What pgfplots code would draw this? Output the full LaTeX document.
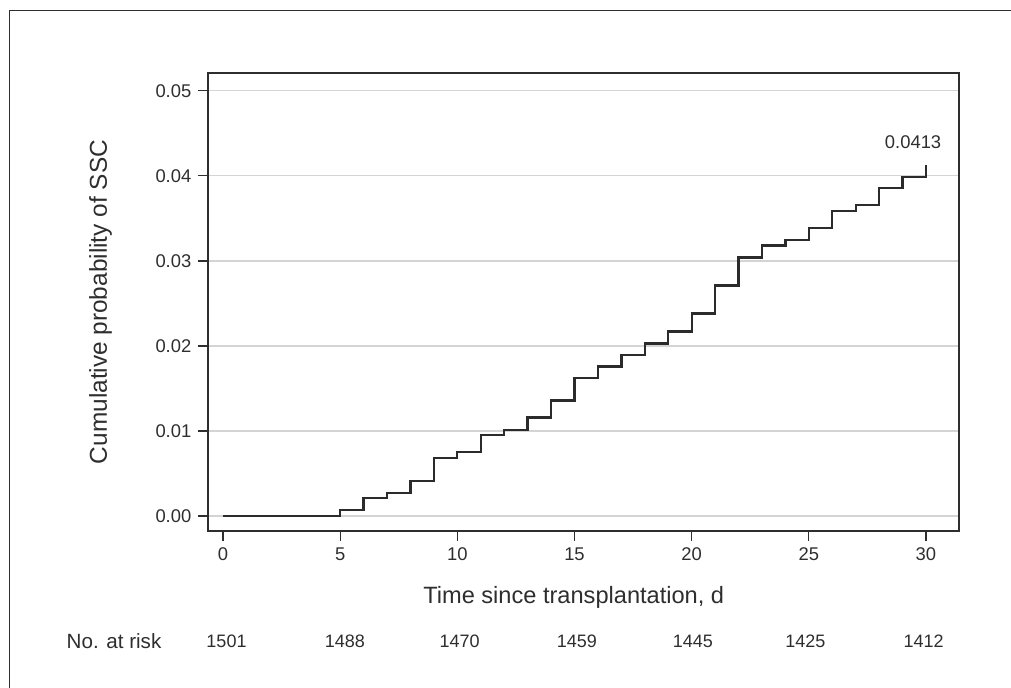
\documentclass[border=0pt]{standalone}
\usepackage{fontspec}
\setmainfont{Liberation Sans}
\usepackage{pgfplots}
\pgfplotsset{compat=1.18}
\definecolor{ink}{HTML}{2E2E2E}
\definecolor{curve}{HTML}{2B2B2B}
\definecolor{gridc}{HTML}{D4D4D4}
\begin{document}
\begin{tikzpicture}
\path[use as bounding box] (0,0) rectangle (505.5pt,344pt);
% frame of the figure panel (left and top edges only)
\draw[ink, line width=0.7pt] (4.75pt,0) -- (4.75pt,338.75pt) -- (505.5pt,338.75pt);
\begin{axis}[
    at={(104pt,78.5pt)}, anchor=south west,
    scale only axis, width=375.5pt, height=229pt,
    xmin=-0.64, xmax=31.41, ymin=-0.00176, ymax=0.0521,
    xtick={0,5,10,15,20,25,30},
    ytick={0,0.01,0.02,0.03,0.04,0.05},
    scaled y ticks=false,
    xtick pos=left, ytick pos=left,
    tick align=outside, major tick length=4.8pt,
    tick style={ink, line width=0.6pt},
    axis line style={ink, line width=0.65pt},
    ymajorgrids, grid style={gridc, line width=0.6pt},
    /pgf/number format/assume math mode=true,
    tick label style={font=\fontsize{9.2}{11}\selectfont, text=ink},
    yticklabel style={/pgf/number format/fixed, /pgf/number format/fixed zerofill,
      /pgf/number format/precision=2},
    xlabel={Time since transplantation, d},
    ylabel={Cumulative probability of SSC},
    every axis x label/.style={at={(axis description cs:0.487,-0.144)}, anchor=center,
      font=\fontsize{11.8}{14}\selectfont, text=ink},
    every axis y label/.style={at={(axis description cs:-0.143,0.50)}, rotate=90, anchor=center,
      font=\fontsize{12.2}{14}\selectfont, text=ink},
    clip=false,
  ]
  \addplot[const plot, curve, line width=1.15pt] coordinates {
    (0,0) (5,0.0007) (6,0.0021) (7,0.0027) (8,0.0041) (9,0.0068)
    (10,0.0075) (11,0.0095) (12,0.0101) (13,0.0116) (14,0.0136)
    (15,0.0162) (16,0.0176) (17,0.0189) (18,0.0203) (19,0.0217)
    (20,0.0238) (21,0.0271) (22,0.0304) (23,0.0318) (24,0.0325)
    (25,0.0339) (26,0.0359) (27,0.0366) (28,0.0386) (29,0.0399)
    (30,0.0413)};
  \node[font=\fontsize{9.2}{11}\selectfont, text=ink] at (axis cs:29.45,0.0440) {0.0413};
  % number at risk row
  \node[font=\fontsize{10.3}{12}\selectfont, text=ink] at (axis cs:-4.65,-0.0147) {No. at risk};
  \node[font=\fontsize{9}{11}\selectfont, text=ink] at (axis cs:0.15,-0.0147) {1501};
  \node[font=\fontsize{9}{11}\selectfont, text=ink] at (axis cs:5.2,-0.0147) {1488};
  \node[font=\fontsize{9}{11}\selectfont, text=ink] at (axis cs:10.1,-0.0147) {1470};
  \node[font=\fontsize{9}{11}\selectfont, text=ink] at (axis cs:15.1,-0.0147) {1459};
  \node[font=\fontsize{9}{11}\selectfont, text=ink] at (axis cs:20.05,-0.0147) {1445};
  \node[font=\fontsize{9}{11}\selectfont, text=ink] at (axis cs:24.85,-0.0147) {1425};
  \node[font=\fontsize{9}{11}\selectfont, text=ink] at (axis cs:29.9,-0.0147) {1412};
\end{axis}
\end{tikzpicture}
\end{document}
